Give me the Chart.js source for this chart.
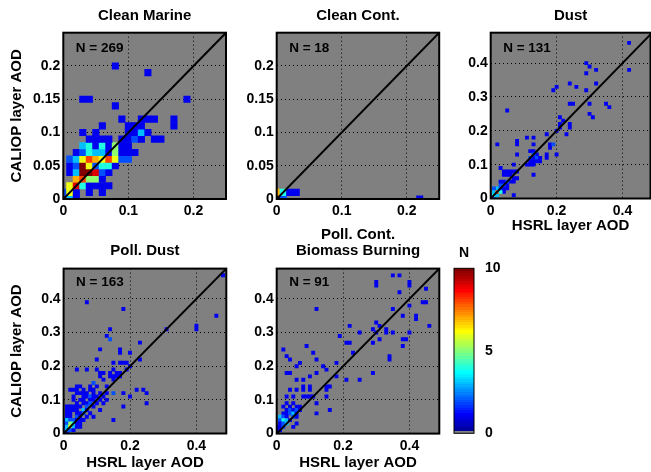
<!DOCTYPE html>
<html>
<head>
<meta charset="utf-8">
<script src="https://cdn.jsdelivr.net/npm/chart.js@4.4.0/dist/chart.umd.min.js"></script>
<style>
  html, body { margin: 0; padding: 0; background: #fff; overflow: hidden; }
  body { width: 651px; height: 472px; position: relative; }
  canvas { position: absolute; }
</style>
</head>
<body>
<canvas id="cleanMarine"></canvas>
<canvas id="cleanCont"></canvas>
<canvas id="dust"></canvas>
<canvas id="pollDust"></canvas>
<canvas id="biomass"></canvas>
<canvas id="colorbar"></canvas>
<script>
// ---- data ----
const binSize = 0.01;
const titles = ['Clean Marine', 'Clean Cont.', 'Dust', 'Poll. Dust', ['Poll. Cont.', 'Biomass Burning']];
const totals = [269, 18, 131, 163, 91];
const smallYTicks = [0, 0.05, 0.1, 0.15, 0.2];
const smallXTicks = [0, 0.1, 0.2];
const bigYTicks = [0, 0.1, 0.2, 0.3, 0.4];
const bigXTicks = [0, 0.2, 0.4];
const cbTicks = [0, 5, 10];
const cbRange = [0, 10];
const oneToOne = [0, 0.5];

// cells: [HSRL layer AOD, CALIOP layer AOD, count]
const cleanMarine = [
  [0,0,2],[0.01,0,3],[0.02,0,1],
  [0,0.01,2],[0.01,0.01,6],[0.02,0.01,1],[0.04,0.01,1],[0.06,0.01,1],
  [0.01,0.02,6],[0.02,0.02,9],[0.03,0.02,4],[0.04,0.02,1],[0.05,0.02,1],[0.06,0.02,1],[0.07,0.02,1],
  [0.02,0.03,7],[0.03,0.03,8],[0.04,0.03,5],[0.05,0.03,5],[0.06,0.03,1],
  [0.01,0.04,1],[0.02,0.04,3],[0.03,0.04,10],[0.04,0.04,10],[0.05,0.04,9],[0.06,0.04,2],[0.07,0.04,1],
  [0.01,0.05,1],[0.02,0.05,2],[0.03,0.05,10],[0.04,0.05,6],[0.05,0.05,2],[0.06,0.05,4],[0.07,0.05,4],[0.08,0.05,1],
  [0.01,0.06,2],[0.02,0.06,3],[0.03,0.06,6],[0.04,0.06,8],[0.05,0.06,7],[0.06,0.06,6],[0.07,0.06,8],[0.08,0.06,6],[0.09,0.06,2],[0.1,0.06,2],
  [0.02,0.07,1],[0.03,0.07,2],[0.04,0.07,4],[0.05,0.07,3],[0.06,0.07,3],[0.07,0.07,1],[0.08,0.07,5],[0.09,0.07,1],[0.1,0.07,1],[0.11,0.07,1],
  [0.03,0.08,3],[0.04,0.08,4],[0.05,0.08,1],[0.06,0.08,4],[0.07,0.08,1],[0.08,0.08,5],[0.09,0.08,1],[0.1,0.08,1],
  [0.04,0.09,1],[0.05,0.09,1],[0.06,0.09,1],[0.07,0.09,1],[0.09,0.09,1],[0.1,0.09,1],[0.11,0.09,2],[0.12,0.09,1],[0.14,0.09,1],[0.15,0.09,1],
  [0.03,0.1,1],[0.05,0.1,1],[0.1,0.1,1],[0.11,0.1,1],[0.12,0.1,3],[0.13,0.1,1],
  [0.06,0.11,1],[0.1,0.11,1],[0.11,0.11,1],[0.12,0.11,1],[0.17,0.11,1],
  [0.09,0.12,1],[0.12,0.12,1],[0.13,0.12,1],[0.14,0.12,1],[0.17,0.12,1],
  [0.08,0.14,1],[0.03,0.15,1],[0.04,0.15,1],[0.19,0.15,1],[0.13,0.19,1],[0.08,0.2,1]
];
const cleanCont = [
  [0,0,1],[0.01,0,2],[0,0.01,7],[0.01,0.01,4],[0.02,0.01,1],[0.03,0.01,1],[0.22,0,1]
];
const dust = [
  [0.42,0.46,1],[0.42,0.38,1],[0.29,0.4,1],[0.3,0.39,1],[0.29,0.37,1],[0.32,0.38,1],
  [0.24,0.34,1],[0.2,0.33,1],[0.19,0.32,1],[0.26,0.33,1],[0.29,0.32,1],[0.32,0.34,1],
  [0.24,0.28,1],[0.25,0.28,1],[0.3,0.28,1],[0.35,0.28,1],[0.36,0.27,1],[0.3,0.25,1],[0.31,0.24,1],[0.05,0.26,1],
  [0.21,0.24,1],[0.22,0.23,1],[0.21,0.22,1],[0.21,0.21,1],[0.24,0.22,1],[0.24,0.21,1],[0.23,0.19,1],[0.17,0.19,1],[0.2,0.2,1],
  [0.02,0.16,1],[0.08,0.17,1],[0.08,0.16,1],[0.11,0.18,1],[0.13,0.18,1],[0.13,0.16,1],[0.18,0.16,1],[0.19,0.16,2],[0.18,0.15,1],[0.08,0.13,1],[0.2,0.13,1],
  [0.12,0.14,1],[0.13,0.14,1],[0.14,0.13,1],[0.13,0.13,2],[0.17,0.13,1],[0.17,0.12,1],[0.12,0.12,2],[0.13,0.12,1],[0.14,0.12,2],[0.15,0.12,1],
  [0.12,0.11,1],[0.13,0.11,1],[0.14,0.11,1],[0.11,0.1,1],[0.12,0.1,1],[0.13,0.1,1],[0.15,0.11,1],
  [0.13,0.07,1],[0.07,0.1,1],[0.03,0.09,1],[0.04,0.08,1],[0.05,0.08,1],[0.06,0.08,1],[0.07,0.08,1],[0.08,0.08,1],
  [0.05,0.07,1],[0.06,0.07,1],[0.04,0.07,1],[0.07,0.06,1],[0.08,0.06,1],[0.06,0.05,1],[0.07,0.05,1],[0.05,0.04,1],[0.07,0.01,1],[0.04,0.02,1],
  [0,0,2],[0.01,0,2],[0,0.01,2],[0.01,0.01,4],[0.02,0.01,3],[0.01,0.02,3],[0.02,0.02,8],[0.03,0.02,4],
  [0.02,0.03,3],[0.03,0.03,2],[0.01,0.03,2],[0.03,0.04,2],[0.04,0.04,2],[0.04,0.05,1],[0.03,0.05,1],[0.04,0.03,1],[0.05,0.03,1],[0.05,0.05,2]
];
const pollDust = [
  [0.07,0.39,1],[0.18,0.37,1],[0.46,0.35,1],[0.48,0.47,1],[0.4,0.32,1],[0.4,0.31,1],[0.31,0.31,1],[0.14,0.31,1],[0.13,0.29,1],[0.14,0.28,2],
  [0.23,0.27,1],[0.17,0.25,1],[0.17,0.24,1],[0.2,0.24,1],[0.11,0.25,1],[0.1,0.22,1],[0.23,0.22,1],[0.15,0.21,1],[0.17,0.21,1],[0.18,0.21,1],
  [0.19,0.21,1],[0.2,0.2,1],[0.04,0.19,1],[0.07,0.19,1],[0.1,0.19,1],[0.15,0.19,1],[0.19,0.19,1],[0.11,0.18,1],[0.12,0.18,1],[0.14,0.18,1],
  [0.16,0.18,1],[0.17,0.18,1],[0.17,0.17,1],[0.14,0.17,1],[0.15,0.17,1],[0.16,0.17,1],[0.11,0.17,1],[0.12,0.16,1],[0.15,0.16,1],[0.22,0.13,1],
  [0.24,0.13,1],[0.25,0.12,1],[0.18,0.12,1],[0.15,0.12,2],[0.2,0.11,1],[0.25,0.09,1],[0.18,0.08,1],[0.15,0.04,1],[0.13,0.14,1],[0.1,0.14,1],[0.09,0.15,2],
  [0.04,0.14,1],[0.05,0.14,1],[0.08,0.14,1],
  [0.02,0.13,1],[0.03,0.13,1],[0.04,0.13,1],[0.06,0.13,1],[0.08,0.13,1],[0.09,0.13,1],
  [0.04,0.12,1],[0.05,0.12,1],[0.06,0.12,1],[0.07,0.12,1],[0.09,0.12,1],[0.11,0.12,1],[0.13,0.12,1],
  [0.03,0.11,1],[0.06,0.11,1],[0.07,0.11,1],[0.08,0.11,2],[0.09,0.11,1],[0.1,0.11,1],[0.12,0.11,1],
  [0.03,0.1,1],[0.05,0.1,1],[0.06,0.1,1],[0.08,0.1,1],[0.09,0.1,1],[0.11,0.1,1],[0.13,0.1,1],
  [0.04,0.09,1],[0.06,0.09,1],[0.07,0.09,1],[0.08,0.09,2],[0.1,0.09,1],[0.12,0.09,1],
  [0.01,0.08,1],[0.02,0.08,1],[0.03,0.08,1],[0.04,0.08,1],[0.05,0.08,1],[0.07,0.08,2],[0.09,0.08,1],
  [0.01,0.07,1],[0.02,0.07,1],[0.03,0.07,1],[0.04,0.07,1],[0.06,0.07,3],[0.07,0.07,1],[0.11,0.07,1],
  [0.01,0.06,1],[0.02,0.06,1],[0.04,0.06,1],[0.05,0.06,1],[0.06,0.06,2],[0.08,0.06,1],
  [0.01,0.05,1],[0.02,0.05,1],[0.04,0.05,2],[0.05,0.05,1],[0.07,0.05,1],[0.09,0.05,1],
  [0,0.04,1],[0.01,0.04,3],[0.02,0.04,2],[0.03,0.04,2],[0.04,0.04,1],[0.05,0.04,1],[0.06,0.04,1],
  [0,0.03,1],[0.01,0.03,2],[0.02,0.03,5],[0.03,0.03,4],[0.04,0.03,1],[0.05,0.03,1],
  [0,0.02,1],[0.01,0.02,3],[0.02,0.02,6],[0.03,0.02,3],[0.04,0.02,1],[0.05,0.02,1],
  [0,0.01,2],[0.01,0.01,3],[0.02,0.01,2],[0.03,0.01,1],[0,0,2],[0.01,0,1]
];
const biomass = [
  [0.35,0.47,1],[0.37,0.47,1],[0.3,0.44,1],[0.3,0.45,1],[0.4,0.44,1],[0.4,0.45,1],[0.37,0.42,1],[0.45,0.43,1],[0.12,0.37,1],
  [0.44,0.39,1],[0.45,0.39,1],[0.4,0.38,1],[0.35,0.37,1],[0.42,0.35,1],[0.42,0.34,1],[0.38,0.35,1],[0.46,0.32,1],[0.3,0.33,1],
  [0.31,0.32,1],[0.22,0.32,1],[0.29,0.31,1],[0.3,0.3,1],[0.33,0.31,1],[0.33,0.3,1],[0.35,0.3,1],[0.4,0.3,1],[0.25,0.3,1],
  [0.19,0.29,1],[0.31,0.28,1],[0.38,0.28,1],[0.39,0.28,1],[0.38,0.26,1],[0.21,0.27,1],[0.22,0.27,1],[0.29,0.27,1],[0.23,0.24,1],
  [0.02,0.25,1],[0.09,0.26,1],[0.11,0.24,1],[0.03,0.23,1],[0.04,0.22,1],[0.12,0.22,1],[0.34,0.23,1],[0.34,0.22,1],[0.07,0.21,1],
  [0.06,0.2,1],[0.14,0.2,1],[0.18,0.21,1],[0.15,0.19,1],[0.29,0.18,1],[0.03,0.18,1],[0.04,0.18,1],[0.25,0.16,1],[0.21,0.16,1],
  [0.18,0.17,1],[0.12,0.18,1],[0.1,0.17,1],[0.08,0.16,1],[0.06,0.16,1],[0.08,0.13,1],[0.08,0.14,1],[0.1,0.13,1],[0.1,0.14,1],
  [0.15,0.14,1],[0.16,0.14,1],[0.15,0.13,1],[0.06,0.13,1],[0.04,0.13,1],[0.03,0.11,1],[0.05,0.11,1],[0.08,0.11,1],[0.09,0.11,1],
  [0.1,0.11,1],[0.11,0.11,1],[0.15,0.11,1],[0.12,0.09,1],[0.16,0.07,1],[0.12,0.06,1],
  [0.03,0.09,1],[0.05,0.09,1],[0.02,0.08,1],[0.04,0.08,1],[0.06,0.08,1],[0.07,0.08,1],
  [0.03,0.07,1],[0.04,0.07,2],[0.05,0.07,1],[0.06,0.07,2],[0.07,0.07,1],
  [0.02,0.06,1],[0.03,0.06,1],[0.04,0.06,2],[0.05,0.06,3],[0.06,0.06,1],
  [0.01,0.05,3],[0.02,0.05,2],[0.03,0.05,1],[0.05,0.05,2],[0.06,0.05,1],
  [0.01,0.04,2],[0.02,0.04,4],[0.03,0.04,3],[0.04,0.04,1],
  [0.01,0.03,1],[0.02,0.03,2],[0.03,0.03,3],[0.06,0.03,1],
  [0,0.02,1],[0.01,0.02,1],[0.02,0.02,2],[0.05,0.02,1],[0,0.01,1],[0.01,0.01,1],[0,0,1]
];

// ---- look ----
Chart.defaults.font.family = '"Liberation Sans", Arial, Helvetica, sans-serif';
Chart.defaults.font.weight = 'bold';
Chart.defaults.color = '#000';

// matlab jet(64), first entry grey (empty bins)
function u(k) { return k <= 16 ? k / 16 : k <= 31 ? 1 : (48 - k) / 16; }
function jet(i) {
  if (i === 1) return 'rgb(128,128,128)';
  const r = i >= 25 ? u(i - 24) : 0;
  const g = i >= 9 && i <= 55 ? u(i - 8) : 0;
  const b = i <= 39 ? u(i + 8) : 0;
  return 'rgb(' + Math.round(r * 255) + ',' + Math.round(g * 255) + ',' + Math.round(b * 255) + ')';
}
function countColor(n) {
  const i = Math.min(64, Math.floor((n - cbRange[0]) / (cbRange[1] - cbRange[0]) * 64) + 1);
  return jet(i);
}
function cellRadius(ctx) {
  const s = ctx.chart.scales.x;
  const side = Math.abs(s.getPixelForValue(binSize) - s.getPixelForValue(0));
  return isFinite(side) && side > 0 ? (side + 0.6) / Math.SQRT2 : 2;
}

// grey axes background, box frame and the N = ... note
const axesBox = {
  id: 'axesBox',
  beforeDraw(chart, args, opts) {
    if (!opts.fill) return;
    const a = chart.chartArea, c = chart.ctx;
    c.save();
    c.fillStyle = opts.fill;
    c.fillRect(a.left, a.top, a.width, a.height);
    c.restore();
  },
  afterDraw(chart, args, opts) {
    const a = chart.chartArea, c = chart.ctx;
    c.save();
    if (opts.note) {
      c.font = 'bold 13.5px "Liberation Sans", Arial, sans-serif';
      c.fillStyle = '#000';
      c.textBaseline = 'middle';
      c.fillText(opts.note, a.left + 12.5, a.top + opts.noteDy);
    }
    c.lineWidth = opts.frame || 2;
    c.strokeStyle = '#000';
    c.strokeRect(a.left, a.top, a.width, a.height);
    c.restore();
  }
};

function place(id, box) {
  const cv = document.getElementById(id);
  cv.width = box[2]; cv.height = box[3];
  cv.style.left = box[0] + 'px'; cv.style.top = box[1] + 'px';
  return cv;
}

// canvas [left, top, width, height], plot [left, top, right, bottom] in page px
function panel(id, k, cells, o) {
  const cv = place(id, o.canvas);
  const [cl, ct, cw, ch] = o.canvas;
  const [pl, pt, pr, pb] = o.plot;
  const gridOpts = { color: '#000', lineWidth: 1, drawTicks: false };
  const borderOpts = { display: false, dash: [1, 3] };
  const tickFont = { size: 14, weight: 'bold' };
  new Chart(cv, {
    type: 'scatter',
    data: {
      datasets: [{
        data: cells.map(c => ({ x: c[0], y: c[1], n: c[2] })),
        pointStyle: 'rect',
        pointRadius: cellRadius,
        pointHoverRadius: cellRadius,
        pointBorderWidth: 0,
        backgroundColor: ctx => countColor(ctx.raw ? ctx.raw.n : 1),
        clip: 0,
        order: 1
      }, {
        type: 'line',
        data: oneToOne.map(v => ({ x: v, y: v })),
        borderColor: '#000',
        borderWidth: 2,
        pointRadius: 0,
        clip: 0,
        order: 0
      }]
    },
    options: {
      responsive: false,
      animation: false,
      events: [],
      layout: { autoPadding: false, padding: { right: cl + cw - pr } },
      plugins: {
        legend: { display: false },
        tooltip: { enabled: false },
        title: {
          display: true, fullSize: false, text: titles[k], color: '#000',
          font: { size: 15, weight: 'bold', lineHeight: o.titleLh || 1.2 },
          padding: o.titlePad
        },
        axesBox: { fill: 'rgb(128,128,128)', note: 'N = ' + totals[k], noteDy: o.noteDy, frame: 2 }
      },
      scales: {
        x: {
          type: 'linear', min: 0, max: o.xMax,
          afterBuildTicks: s => { s.ticks = o.xTicks.map(v => ({ value: v })); },
          afterFit: s => { s.height = ct + ch - pb; },
          grid: gridOpts, border: borderOpts,
          ticks: { font: tickFont, padding: 4, autoSkip: false, maxRotation: 0, callback: v => String(v) },
          title: { display: !!o.xTitle, text: 'HSRL layer AOD', font: { size: 15, weight: 'bold' }, padding: { top: 0, bottom: o.xTitlePad || 0 } }
        },
        y: {
          type: 'linear', min: 0, max: o.yMax,
          afterBuildTicks: s => { s.ticks = o.yTicks.map(v => ({ value: v })); },
          afterFit: s => { s.width = pl - cl; },
          grid: gridOpts, border: borderOpts,
          ticks: { font: tickFont, padding: 3, autoSkip: false, callback: v => String(v) },
          title: { display: !!o.yTitle, text: 'CALIOP layer AOD', font: { size: 15, weight: 'bold' }, padding: { top: 8, bottom: 0 } }
        }
      }
    },
    plugins: [axesBox]
  });
}

const row1Title = { top: 6.8, bottom: 7.9 };

panel('cleanMarine', 0, cleanMarine, {
  canvas: [0, 0, 240, 236], plot: [63.3, 32.7, 226, 199],
  xMax: 0.25, yMax: 0.25, xTicks: smallXTicks, yTicks: smallYTicks,
  titlePad: row1Title, noteDy: 15.5, yTitle: true
});
panel('cleanCont', 1, cleanCont, {
  canvas: [213, 0, 240, 236], plot: [276.7, 32.7, 439.2, 199],
  xMax: 0.25, yMax: 0.25, xTicks: smallXTicks, yTicks: smallYTicks,
  titlePad: row1Title, noteDy: 15.5
});
panel('dust', 2, dust, {
  canvas: [427, 0, 224, 236], plot: [490.7, 32.7, 650.5, 198.5],
  xMax: 0.485, yMax: 0.49, xTicks: bigXTicks, yTicks: bigYTicks,
  titlePad: row1Title, noteDy: 15.5, xTitle: true, xTitlePad: 1
});
panel('pollDust', 3, pollDust, {
  canvas: [0, 220, 240, 252], plot: [63.6, 268.6, 226.3, 433.5],
  xMax: 0.49, yMax: 0.49, xTicks: bigXTicks, yTicks: bigYTicks,
  titlePad: { top: 21.5, bottom: 9.1 }, noteDy: 13.5, xTitle: true, yTitle: true, xTitlePad: 0.5
});
panel('biomass', 4, biomass, {
  canvas: [213, 220, 240, 252], plot: [276.7, 268.6, 439.3, 433.6],
  xMax: 0.49, yMax: 0.49, xTicks: bigXTicks, yTicks: bigYTicks,
  titlePad: { top: 7.1, bottom: 10 }, titleLh: 1.05, noteDy: 13.5, xTitle: true, xTitlePad: 0.5
});

// ---- colour bar ----
const cbCanvas = place('colorbar', [440, 220, 60, 252]);
new Chart(cbCanvas, {
  type: 'bar',
  data: {
    labels: ['N'],
    datasets: [{
      data: [cbRange],
      barPercentage: 1,
      categoryPercentage: 1,
      borderWidth: 0,
      backgroundColor: ctx => {
        const a = ctx.chart.chartArea;
        if (!a) return 'rgb(128,128,128)';
        const g = ctx.chart.ctx.createLinearGradient(0, a.bottom, 0, a.top);
        for (let i = 0; i < 64; i++) {
          const col = jet(i + 1);
          g.addColorStop(i / 64, col);
          g.addColorStop((i + 1) / 64, col);
        }
        return g;
      }
    }]
  },
  options: {
    responsive: false,
    animation: false,
    events: [],
    layout: { autoPadding: false, padding: { left: 14, bottom: 38.7 } },
    plugins: {
      legend: { display: false },
      tooltip: { enabled: false },
      title: { display: true, fullSize: false, text: 'N', color: '#000', font: { size: 14, weight: 'bold' }, padding: { top: 25.1, bottom: 6.4 } },
      axesBox: { frame: 1 }
    },
    scales: {
      x: { display: false },
      y: {
        position: 'right', min: cbRange[0], max: cbRange[1],
        afterBuildTicks: s => { s.ticks = cbTicks.map(v => ({ value: v })); },
        afterFit: s => { s.width = 26; },
        grid: { display: false }, border: { display: false },
        ticks: { font: { size: 14, weight: 'bold' }, padding: 3, callback: v => String(v) }
      }
    }
  },
  plugins: [axesBox]
});
</script>
</body>
</html>
